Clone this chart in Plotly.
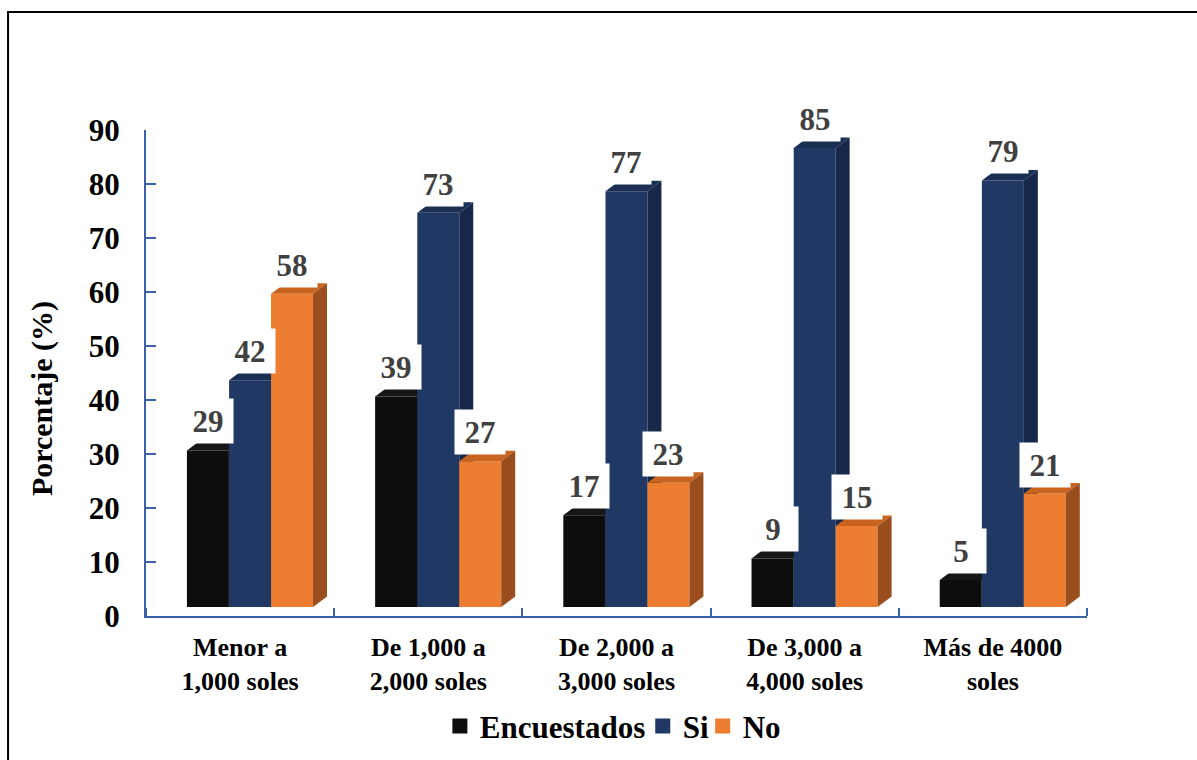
import plotly.graph_objects as go

# ---- data -------------------------------------------------------------
categories = ["Menor a<br>1,000 soles", "De 1,000 a<br>2,000 soles",
              "De 2,000 a<br>3,000 soles", "De 3,000 a<br>4,000 soles",
              "Más de 4000<br>soles"]
series_names = ["Encuestados", "Si", "No"]
encuestados = [29, 39, 17, 9, 5]
si = [42, 73, 77, 85, 79]
no = [58, 27, 23, 15, 21]
y_ticks = [0, 10, 20, 30, 40, 50, 60, 70, 80, 90]

# ---- style ------------------------------------------------------------
FONT = "Liberation Serif"
AXIS_BLUE = "#3A62A6"
faces = {  # front, top, side
    "Encuestados": ("#0D0D0D", "#161616", "#0A0A0A"),
    "Si": ("#203864", "#1B2F54", "#17284A"),
    "No": ("#ED7D31", "#C8641F", "#9A4E1E"),
}
slot_centers = [0.329, 0.553, 0.776]   # bar centre within each category slot
bar_w = 0.223                          # front-face width (category units)
depth_x = 0.0743                       # 3-D depth offset, category units
depth_y = 1.94                         # 3-D depth offset, value units
legend_x = [0.3123, 0.5279, 0.5916]    # left edge of each legend entry

fig = go.Figure()

def polys(xc_list, vals, kind):
    xs, ys = [], []
    for xc, v in zip(xc_list, vals):
        x0, x1 = xc - bar_w / 2, xc + bar_w / 2
        if kind == "front":
            px = [x0, x1, x1, x0, x0]
            py = [0, 0, v, v, 0]
        elif kind == "top":
            px = [x0, x1, x1 + depth_x, x0 + depth_x, x0]
            py = [v, v, v + depth_y, v + depth_y, v]
        else:  # side
            px = [x1, x1 + depth_x, x1 + depth_x, x1, x1]
            py = [0, depth_y, v + depth_y, v, 0]
        xs += px + [None]
        ys += py + [None]
    return xs, ys

all_vals = [encuestados, si, no]
for s, (name, vals) in enumerate(zip(series_names, all_vals)):
    xc = [i + slot_centers[s] for i in range(len(categories))]
    front, top, side = faces[name]
    for kind, col in (("front", front), ("top", top), ("side", side)):
        px, py = polys(xc, vals, kind)
        fig.add_trace(go.Scatter(
            x=px, y=py, mode="lines", fill="toself", fillcolor=col,
            line=dict(width=0, color=col), hoverinfo="skip",
            showlegend=False, yaxis="y2"))

# value labels
annotations = []
for s, vals in enumerate(all_vals):
    for i, v in enumerate(vals):
        annotations.append(dict(
            x=i + slot_centers[s], y=v, xref="x", yref="y2",
            text=str(v), showarrow=False, yshift=29,
            bgcolor="white", width=48, height=42,
            font=dict(family=FONT, size=31, color="#404040", weight="bold")))

# y-axis title
annotations.append(dict(
    x=-0.1104, y=0.4465, xref="paper", yref="paper", text="Porcentaje (%)",
    xanchor="center", yanchor="middle",
    textangle=-90, showarrow=False,
    font=dict(family=FONT, size=30, color="black", weight="bold")))

# legend entries, one legend box per series
legend_ids = ["legend", "legend2", "legend3"]
for name, lid in zip(series_names, legend_ids):
    fig.add_trace(go.Scatter(
        x=[None], y=[None], mode="markers", name=name, legend=lid,
        marker=dict(symbol="square", size=15, color=faces[name][0]),
        showlegend=True))

legend_style = dict(
    orientation="h", xanchor="left", y=-0.227, yanchor="middle",
    font=dict(family=FONT, size=31, color="black", weight="bold"),
    itemwidth=30, bgcolor="rgba(0,0,0,0)", borderwidth=0)

fig.update_layout(
    width=1197, height=760,
    margin=dict(l=146, r=109.5, t=130, b=144, autoexpand=False),
    paper_bgcolor="white", plot_bgcolor="white",
    font=dict(family=FONT, color="black"),
    xaxis=dict(
        range=[0, 5], showgrid=False, zeroline=False,
        showline=True, linecolor=AXIS_BLUE, linewidth=2,
        tickmode="array",
        tickvals=[i + 0.5 for i in range(len(categories))],
        ticktext=categories, ticks="",
        tickfont=dict(family=FONT, size=26, color="black", weight="bold"),
        ticklabelstandoff=7,
        minor=dict(tickmode="array", tickvals=[0, 1, 2, 3, 4, 5],
                   ticks="inside", ticklen=8, tickcolor=AXIS_BLUE,
                   tickwidth=2, showgrid=False),
        fixedrange=True),
    yaxis=dict(
        range=[0, 90], showgrid=False, zeroline=False,
        showline=True, linecolor=AXIS_BLUE, linewidth=2,
        tickmode="array", tickvals=y_ticks,
        ticks="inside", ticklen=10, tickcolor=AXIS_BLUE, tickwidth=2,
        tickfont=dict(family=FONT, size=31, color="black", weight="bold"),
        ticklabelstandoff=18),
    yaxis2=dict(
        overlaying="y", range=[-1.667, 88.333], visible=False),
    legend=dict(x=legend_x[0], **legend_style),
    legend2=dict(x=legend_x[1], **legend_style),
    legend3=dict(x=legend_x[2], **legend_style),
    annotations=annotations,
    shapes=[dict(type="rect", xref="paper", yref="paper",
                 x0=-0.1466, y0=1.2428, x1=1.2, y1=-0.35,
                 line=dict(color="black", width=2), layer="below")],
)

fig.write_html("out.html")
